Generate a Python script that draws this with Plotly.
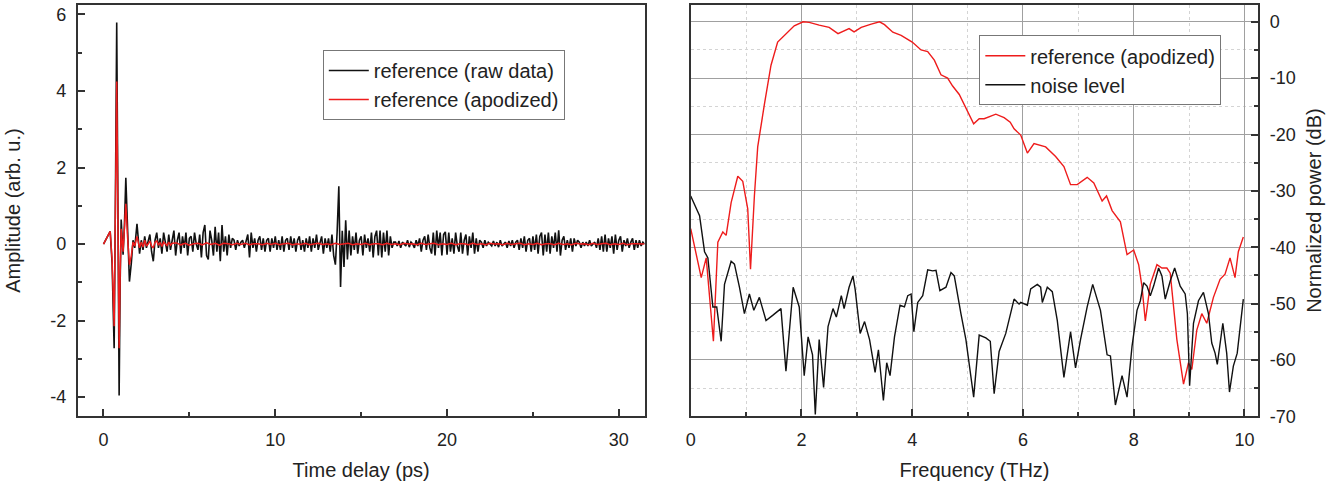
import numpy as np
import plotly.graph_objects as go

# ---------------- Left panel: time-domain data ----------------
# main pulse (explicit sample times)
t_pulse = [0.0, 0.2, 0.39, 0.5, 0.62, 0.7, 0.77, 0.84, 0.91, 0.97, 1.03, 1.14, 1.22, 1.30, 1.40, 1.51, 1.62, 1.72, 1.82, 1.95]
raw_pulse = [0.0, 0.15, 0.33, -0.5, -2.72, 1.5, 5.79, 1.0, -3.96, -1.0, 0.64, -0.28, 0.5, 1.73, 0.3, -0.98, -0.5, 0.1, -0.1, 0.53]
apo_pulse = [0.0, 0.15, 0.33, -0.4, -2.15, 1.2, 4.25, 0.8, -2.72, -0.8, 0.4, -0.2, 0.3, 1.05, 0.2, -0.54, -0.3, 0.05, -0.05, 0.2]

# raw trace after the pulse, sampled every 0.1 ps from 2.1 ps
raw_tail_start = 2.1
raw_tail_step = 0.1
raw_tail = [
    -0.25, 0.1, -0.15, 0.2, -0.1, 0.05, 0.25, -0.2, -0.45, 0.1,
    0.3, -0.1, 0.15, -0.25, 0.3, 0.05, -0.2, 0.25, -0.15, 0.1,
    0.35, -0.3, 0.1, 0.3, -0.25, 0.2, -0.1, 0.3, -0.3, 0.15,
    0.2, -0.2, 0.3, 0.0, -0.15, 0.25, -0.35, 0.3, 0.5, -0.3,
    -0.4, 0.35, 0.1, -0.3, 0.45, -0.2, 0.3, -0.45, 0.5, -0.2,
    0.2, -0.3, 0.25, -0.1, 0.15, 0.1, -0.15, 0.1, -0.05, 0.05,
    0.1, -0.1, 0.05, 0.25, -0.35, 0.3, -0.1, 0.15, -0.2, 0.1,
    0.2, -0.15, 0.15, -0.2, 0.1, 0.15, -0.2, 0.15, -0.1, 0.2,
    -0.15, 0.1, -0.15, 0.2, -0.2, 0.1, 0.15, -0.15, 0.2, -0.1,
    0.15, -0.2, 0.1, 0.2, -0.15, 0.1, -0.2, 0.15, -0.1, 0.2,
    -0.2, 0.15, -0.1, 0.25, -0.15, 0.05, 0.2, -0.25, 0.15, -0.1,
    0.15, -0.2, 0.25, -0.3, -0.54, 0.3, 1.51, -1.12, 0.35, -0.6,
    0.62, -0.4, 0.35, -0.3, 0.2, -0.15, 0.3, -0.25, 0.1, 0.2,
    -0.3, 0.25, -0.1, 0.15, -0.2, 0.3, -0.35, 0.2, 0.35, -0.3,
    0.35, -0.35, 0.3, -0.2, 0.35, -0.3, 0.2, -0.1, 0.05, 0.05,
    -0.05, 0.08, -0.1, 0.05, 0.0, -0.05, 0.1, -0.08, 0.05, 0.0,
    -0.1, 0.1, -0.05, 0.15, -0.2, 0.1, 0.2, -0.15, 0.25, -0.1,
    -0.25, 0.3, -0.3, 0.35, -0.1, 0.3, -0.3, 0.25, 0.32, -0.28,
    0.3, -0.2, 0.15, -0.25, 0.3, -0.05, -0.2, 0.3, -0.25, 0.1,
    0.25, -0.3, 0.2, -0.1, 0.3, -0.25, 0.15, -0.2, 0.1, 0.05,
    -0.1, 0.1, -0.05, 0.05, 0.0, -0.05, 0.08, -0.05, 0.05, -0.08,
    0.1, -0.05, 0.0, 0.05, -0.1, 0.08, -0.05, 0.1, -0.1, 0.05,
    0.1, -0.15, 0.15, -0.1, 0.2, -0.2, 0.1, 0.15, -0.2, 0.2,
    -0.15, 0.25, -0.25, 0.2, 0.3, -0.3, 0.25, -0.2, 0.3, -0.25,
    0.2, -0.1, 0.3, -0.2, 0.36, -0.3, 0.1, 0.2, -0.15, 0.1,
    -0.1, 0.15, -0.2, 0.15, -0.05, 0.1, 0.05, -0.1, 0.05, -0.05,
    0.05, -0.05, 0.1, -0.05, 0.0, 0.05, -0.1, 0.15, -0.15, 0.2,
    -0.2, 0.25, -0.2, 0.15, -0.1, 0.2, -0.25, 0.25, -0.15, 0.1,
    0.2, -0.2, 0.1, -0.05, 0.15, -0.1, 0.05, 0.15, -0.15, 0.1,
    -0.1, 0.1, -0.05, 0.05, 0.0,
]

# apodized trace after the pulse
apo_mid_start = 2.1
apo_mid_step = 0.1
apo_mid = [-0.1, 0.05, -0.08, 0.1, -0.05, 0.0, 0.08, -0.05, -0.1, 0.05,
           0.08, -0.03, 0.04, -0.06, 0.05, 0.0, -0.04, 0.05, -0.03, 0.02]
apo_tail_start = 4.25
apo_tail_step = 0.25
apo_tail = [0.03, -0.02, 0.02, -0.03, 0.01, 0.02, -0.02, 0.03, -0.01, 0.02,
            -0.03, 0.02, 0.01, -0.02, 0.02, -0.01, 0.02, -0.02, 0.01, 0.01,
            -0.02, 0.02, -0.01, 0.02, -0.02, 0.01, 0.02, -0.02, 0.01, -0.01,
            0.02, -0.02, 0.01, 0.02, -0.01, 0.01, -0.02, 0.02, -0.01, 0.01,
            0.02, -0.02, 0.01, -0.01, 0.02, -0.02, 0.01, 0.01, -0.02, 0.02,
            -0.01, 0.01, -0.02, 0.02, 0.0, 0.01, -0.02, 0.02, -0.01, 0.01,
            0.02, -0.02, 0.01, -0.01, 0.02, -0.02, 0.01, 0.01, -0.02, 0.02,
            -0.01, 0.01, -0.02, 0.02, 0.0, 0.01, -0.02, 0.02, -0.01, 0.01,
            0.02, -0.02, 0.01, -0.01, 0.02, -0.02, 0.01, 0.01, -0.02, 0.02,
            -0.01, 0.01, -0.02, 0.02, 0.0, 0.01, -0.02, 0.02, -0.01, 0.01,
            0.02, -0.02, 0.01, -0.01, 0.02, -0.02, 0.01, 0.01, 0.0, 0.0]

# ---------------- Right panel: spectra ----------------
spec_f = [0.0, 0.10, 0.19, 0.28, 0.41, 0.49, 0.58, 0.64, 0.73, 0.85, 0.94, 1.03, 1.08, 1.15, 1.21,
          1.33, 1.45, 1.57, 1.72, 1.87, 2.03, 2.14, 2.32, 2.50, 2.66, 2.77, 2.86, 2.95, 3.08, 3.26,
          3.41, 3.50, 3.65, 3.80, 3.89, 4.00, 4.16, 4.28, 4.40, 4.52, 4.64, 4.73, 4.85, 4.97, 5.11,
          5.21, 5.30, 5.51, 5.66, 5.77, 5.84, 5.96, 6.08, 6.20, 6.41, 6.59, 6.74, 6.86, 6.98, 7.16,
          7.28, 7.43, 7.51, 7.61, 7.76, 7.88, 8.00, 8.09, 8.15, 8.21, 8.30, 8.42, 8.51, 8.60, 8.66,
          8.78, 8.90, 8.99, 9.05, 9.14, 9.23, 9.32, 9.44, 9.56, 9.65, 9.74, 9.83, 9.89, 9.98]
spec_db = [-36.7, -41.5, -45.4, -41.9, -56.7, -39.1, -37.3, -37.9, -32.1, -27.4, -28.3, -33.2, -43.9, -30.9, -22.2,
           -14.7, -7.7, -3.6, -2.1, -0.7, 0.0, -0.1, -0.6, -1.0, -2.1, -1.6, -1.2, -1.8, -1.0, -0.4,
           0.0, -0.5, -1.85, -2.4, -2.9, -3.6, -5.0, -5.3, -6.8, -9.4, -10.0, -11.4, -12.9, -15.2, -18.1,
           -17.2, -17.2, -16.4, -17.0, -17.8, -19.0, -20.1, -23.3, -21.6, -22.2, -23.9, -25.7, -28.9, -28.9, -27.6,
           -28.6, -31.8, -30.9, -33.5, -35.5, -41.3, -40.5, -43.1, -47.0, -53.1, -46.6, -43.1, -43.7, -43.7, -44.6,
           -56.4, -64.3, -60.5, -61.7, -54.7, -51.8, -53.5, -48.9, -45.7, -44.8, -41.9, -45.4, -40.8, -38.2]

noise_f = [0.0, 0.10, 0.16, 0.25, 0.31, 0.40, 0.47, 0.55, 0.61, 0.73, 0.79, 0.88, 0.97, 1.06, 1.14,
           1.24, 1.36, 1.48, 1.63, 1.72, 1.85, 1.96, 2.05, 2.12, 2.20, 2.25, 2.32, 2.40, 2.48, 2.57,
           2.63, 2.72, 2.77, 2.86, 2.93, 2.97, 3.06, 3.14, 3.23, 3.33, 3.39, 3.48, 3.54, 3.60, 3.68,
           3.78, 3.86, 3.92, 3.98, 4.03, 4.10, 4.19, 4.28, 4.37, 4.43, 4.50, 4.61, 4.70, 4.76, 4.88,
           4.97, 5.11, 5.21, 5.33, 5.41, 5.48, 5.57, 5.69, 5.77, 5.84, 5.93, 5.96, 6.08, 6.14, 6.26,
           6.32, 6.35, 6.44, 6.53, 6.62, 6.74, 6.86, 6.95, 7.04, 7.16, 7.26, 7.40, 7.52, 7.58, 7.67,
           7.79, 7.88, 7.97, 8.06, 8.12, 8.18, 8.24, 8.30, 8.36, 8.45, 8.51, 8.57, 8.66, 8.74, 8.84,
           8.93, 8.97, 9.01, 9.08, 9.17, 9.26, 9.35, 9.41, 9.47, 9.51, 9.61, 9.68, 9.73, 9.80, 9.87, 9.98]
noise_db = [-30.9, -33.2, -34.4, -40.8, -41.9, -50.6, -50.6, -56.7, -46.6, -42.5, -43.0, -47.1, -51.8, -48.3, -51.2,
            -48.9, -53.0, -52.1, -50.9, -62.0, -47.1, -50.6, -62.8, -55.9, -59.1, -69.7, -56.4, -64.9, -54.1, -50.9,
            -52.4, -48.6, -50.9, -47.1, -45.1, -47.5, -55.3, -53.2, -56.4, -62.2, -58.2, -67.2, -60.5, -62.8, -55.9,
            -50.3, -50.6, -48.6, -48.3, -55.0, -49.8, -48.6, -44.0, -44.2, -44.1, -47.7, -47.1, -44.5, -45.1, -51.8,
            -56.4, -66.6, -55.6, -56.1, -56.7, -66.0, -58.5, -55.3, -51.8, -49.2, -50.1, -49.8, -50.3, -47.4, -46.6,
            -47.1, -49.8, -47.1, -47.9, -53.0, -63.1, -55.0, -61.4, -56.4, -50.6, -46.6, -51.2, -59.1, -59.3, -68.0,
            -62.8, -66.6, -57.6, -51.2, -49.5, -46.3, -46.9, -48.6, -46.9, -43.7, -45.1, -49.2, -46.0, -43.7, -46.9,
            -48.3, -51.8, -64.6, -53.5, -49.5, -48.0, -51.8, -57.0, -58.8, -60.8, -53.5, -58.8, -65.7, -61.1, -58.8, -49.2]

# tick labels
left_xticks = [0, 10, 20, 30]
left_yticks = [-4, -2, 0, 2, 4, 6]
right_xticks = [0, 2, 4, 6, 8, 10]
right_yticks = [0, -10, -20, -30, -40, -50, -60, -70]


def lab(v):
    return str(v)


t_raw = t_pulse + list(np.round(raw_tail_start + raw_tail_step * np.arange(len(raw_tail)), 3))
y_raw = raw_pulse + raw_tail
t_apo = (t_pulse
         + list(np.round(apo_mid_start + apo_mid_step * np.arange(len(apo_mid)), 3))
         + list(np.round(apo_tail_start + apo_tail_step * np.arange(len(apo_tail)), 3)))
y_apo = apo_pulse + apo_mid + apo_tail

BLACK = "#111111"
RED = "#ee1c1c"
AX = "#333333"
FONT = "Liberation Sans, Arial, sans-serif"

fig = go.Figure()
fig.add_trace(go.Scatter(x=t_raw, y=y_raw, mode="lines", name="reference (raw data)",
                         line=dict(color=BLACK, width=1.6), xaxis="x", yaxis="y", legend="legend"))
fig.add_trace(go.Scatter(x=t_apo, y=y_apo, mode="lines", name="reference (apodized)",
                         line=dict(color=RED, width=1.5), xaxis="x", yaxis="y", legend="legend"))
fig.add_trace(go.Scatter(x=spec_f, y=spec_db, mode="lines", name="reference (apodized)",
                         line=dict(color=RED, width=1.4), xaxis="x2", yaxis="y2", legend="legend2"))
fig.add_trace(go.Scatter(x=noise_f, y=noise_db, mode="lines", name="noise level",
                         line=dict(color=BLACK, width=1.4), xaxis="x2", yaxis="y2", legend="legend2"))

W, H = 1329, 486
ydom = [(H - 425) / H, (H - 5) / H]

common = dict(showline=True, linecolor=AX, linewidth=1.8, mirror=True, ticks="inside",
              ticklen=7, tickwidth=1.5, tickcolor=AX, zeroline=False,
              tickfont=dict(size=18, color="#222", family=FONT))

fig.update_layout(
    width=W, height=H, margin=dict(l=0, r=0, t=0, b=0),
    paper_bgcolor="white", plot_bgcolor="white",
    font=dict(family=FONT, color="#222"),
    xaxis=dict(domain=[73 / W, 642 / W], anchor="y", range=[-1.5, 31.5],
               tickmode="array", tickvals=left_xticks, ticktext=[lab(v) for v in left_xticks],
               minor=dict(ticks="inside", ticklen=4, tickcolor=AX, tickvals=[5, 15, 25]),
               showgrid=False, ticklabelstandoff=6,
               title=dict(text="Time delay (ps)", font=dict(size=20), standoff=14), **common),
    yaxis=dict(domain=ydom, anchor="x", range=[-4.5, 6.25],
               tickmode="array", tickvals=left_yticks, ticktext=[lab(v) for v in left_yticks],
               minor=dict(ticks="inside", ticklen=4, tickcolor=AX, tickvals=[-3, -1, 1, 3, 5]),
               showgrid=False, ticklabelstandoff=6,
               title=dict(text="Amplitude (arb. u.)", font=dict(size=20), standoff=24), **common),
    xaxis2=dict(domain=[688.3 / W, 1258 / W], anchor="y2", range=[0, 10.25],
                tickmode="array", tickvals=right_xticks, ticktext=[lab(v) for v in right_xticks],
                showgrid=True, gridcolor="#a0a0a0", gridwidth=1,
                minor=dict(ticks="inside", ticklen=4, tickcolor=AX, tickvals=[1, 3, 5, 7, 9],
                           showgrid=True, gridcolor="#d4d4d4", griddash="dot", gridwidth=1),
                ticklabelstandoff=6,
                title=dict(text="Frequency (THz)", font=dict(size=20), standoff=14), **common),
    yaxis2=dict(domain=ydom, anchor="x2", side="right", range=[-70, 3],
                tickmode="array", tickvals=right_yticks, ticktext=[lab(v) for v in right_yticks],
                showgrid=True, gridcolor="#a0a0a0", gridwidth=1,
                minor=dict(ticks="inside", ticklen=4, tickcolor=AX,
                           tickvals=[-5, -15, -25, -35, -45, -55, -65],
                           showgrid=True, gridcolor="#d4d4d4", griddash="dot", gridwidth=1),
                ticklabelstandoff=6,
                title=dict(text="Normalized power (dB)", font=dict(size=20), standoff=12), **common),
    legend=dict(x=319 / W, y=1 - 51 / H, xanchor="left", yanchor="top",
                bgcolor="white", bordercolor="#777", borderwidth=1,
                font=dict(size=20, color="#222", family=FONT), tracegroupgap=0,
                itemwidth=40),
    legend2=dict(x=978 / W, y=1 - 36 / H, xanchor="left", yanchor="top",
                 bgcolor="white", bordercolor="#777", borderwidth=1,
                 font=dict(size=20, color="#222", family=FONT), tracegroupgap=0,
                 itemwidth=40),
    showlegend=True,
)

fig.write_html("out.html")
